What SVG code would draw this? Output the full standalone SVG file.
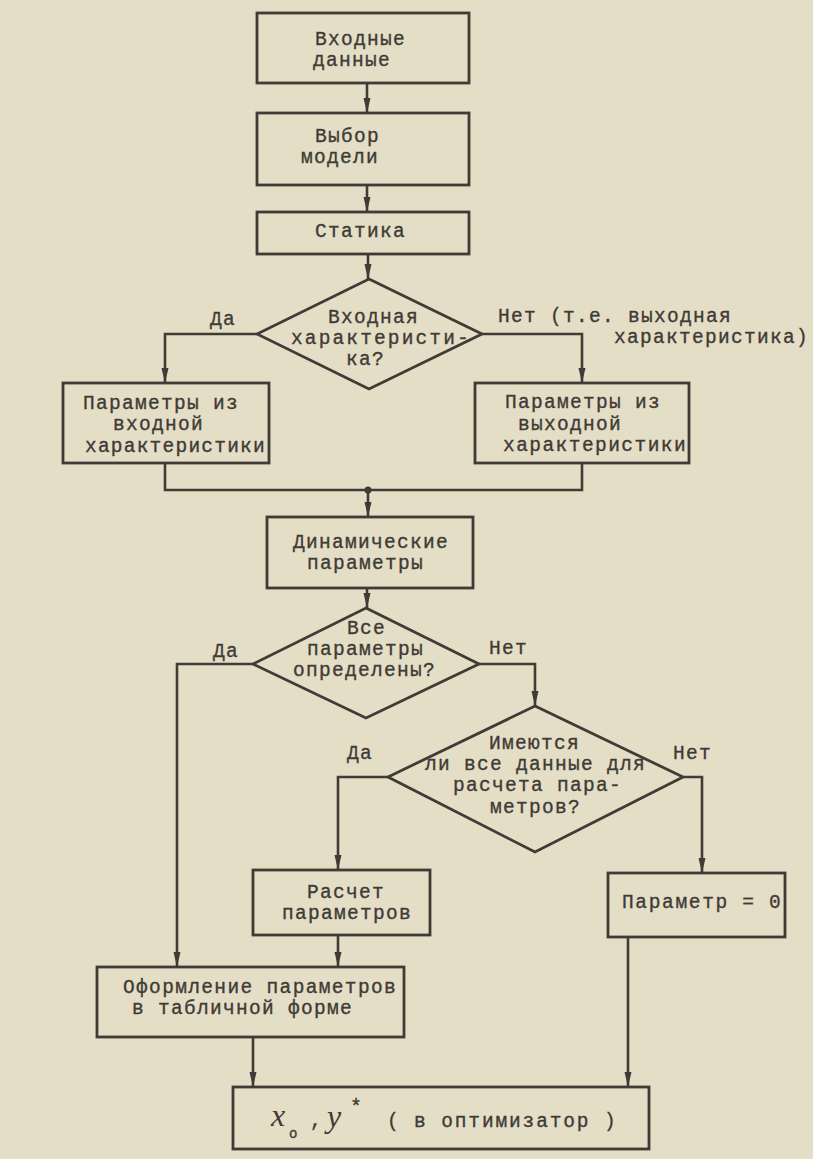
<svg xmlns="http://www.w3.org/2000/svg" width="813" height="1159" viewBox="0 0 813 1159">
<defs>
<style>
.bg{fill:#e5dec7}
.box{fill:none;stroke:#3f3b35;stroke-width:2.8}
.ln{fill:none;stroke:#3f3b35;stroke-width:2.6}
.t{font-family:"Liberation Mono","Courier New",monospace;font-size:19.5px;letter-spacing:1.3px;fill:#3f3b35;stroke:#3f3b35;stroke-width:0.35}
.h{font-family:"Liberation Serif","Times New Roman",serif;font-style:italic;font-size:32px;fill:#3f3b35}
</style>
<marker id="ah" markerUnits="userSpaceOnUse" markerWidth="16" markerHeight="8" refX="15" refY="4" orient="auto">
<path d="M0,0.5 L15,4 L0,7.5 z" fill="#3f3b35"/>
</marker>
</defs>
<rect class="bg" x="0" y="0" width="813" height="1159"/>

<g id="connectors">
<line class="ln" x1="367" y1="83" x2="367" y2="113" marker-end="url(#ah)"/>
<line class="ln" x1="367" y1="185" x2="367" y2="212" marker-end="url(#ah)"/>
<line class="ln" x1="368" y1="254" x2="368" y2="279" marker-end="url(#ah)"/>
<polyline class="ln" points="257,334 165,334 165,383" marker-end="url(#ah)"/>
<polyline class="ln" points="482,334 582,334 582,383" marker-end="url(#ah)"/>
<polyline class="ln" points="165,463 165,490 582,490 582,463"/>
<circle cx="368" cy="490" r="3.5" fill="#3f3b35"/>
<line class="ln" x1="368" y1="490" x2="368" y2="517" marker-end="url(#ah)"/>
<line class="ln" x1="367" y1="588" x2="367" y2="608" marker-end="url(#ah)"/>
<polyline class="ln" points="253,664 177,664 177,967" marker-end="url(#ah)"/>
<polyline class="ln" points="479,664 535,664 535,706" marker-end="url(#ah)"/>
<polyline class="ln" points="388,777 338,777 338,870" marker-end="url(#ah)"/>
<polyline class="ln" points="683,777 702,777 702,873" marker-end="url(#ah)"/>
<line class="ln" x1="338" y1="935" x2="338" y2="967" marker-end="url(#ah)"/>
<line class="ln" x1="253" y1="1037" x2="253" y2="1087" marker-end="url(#ah)"/>
<line class="ln" x1="628" y1="937" x2="628" y2="1087" marker-end="url(#ah)"/>
<text class="t" x="210" y="325">Да</text>
<text class="t" x="498" y="322">Нет (т.е. выходная</text>
<text class="t" x="614" y="343" textLength="195">характеристика)</text>
<text class="t" x="213" y="657">Да</text>
<text class="t" x="489" y="654">Нет</text>
<text class="t" x="347" y="759">Да</text>
<text class="t" x="673" y="759">Нет</text>
</g>

<g id="n1">
<rect class="box" x="257" y="13" width="212" height="70"/>
<text class="t" x="315" y="45">Входные</text>
<text class="t" x="313" y="66">данные</text>
</g>
<g id="n2">
<rect class="box" x="257" y="113" width="212" height="72"/>
<text class="t" x="315" y="142">Выбор</text>
<text class="t" x="301" y="163">модели</text>
</g>
<g id="n3">
<rect class="box" x="257" y="212" width="212" height="42"/>
<text class="t" x="315" y="237">Статика</text>
</g>
<g id="d1">
<polygon class="box" points="369,279 482,334 369,389 257,334"/>
<text class="t" x="328" y="323">Входная</text>
<text class="t" x="291" y="344" textLength="179">характеристи-</text>
<text class="t" x="346" y="365">ка?</text>
</g>
<g id="n4">
<rect class="box" x="63" y="383" width="206" height="80"/>
<text class="t" x="83" y="409">Параметры из</text>
<text class="t" x="113" y="430">входной</text>
<text class="t" x="85" y="452" textLength="181">характеристики</text>
</g>
<g id="n5">
<rect class="box" x="475" y="383" width="214" height="80"/>
<text class="t" x="505" y="408">Параметры из</text>
<text class="t" x="518" y="430">выходной</text>
<text class="t" x="503" y="451" textLength="184">характеристики</text>
</g>
<g id="n6">
<rect class="box" x="267" y="517" width="206" height="71"/>
<text class="t" x="293" y="548">Динамические</text>
<text class="t" x="307" y="569">параметры</text>
</g>
<g id="d2">
<polygon class="box" points="366,608 479,664 366,718 253,664"/>
<text class="t" x="347" y="634">Все</text>
<text class="t" x="307" y="655">параметры</text>
<text class="t" x="293" y="676">определены?</text>
</g>
<g id="d3">
<polygon class="box" points="535,706 683,777 535,852 388,777"/>
<text class="t" x="489" y="749">Имеются</text>
<text class="t" x="425" y="770">ли все данные для</text>
<text class="t" x="453" y="791">расчета пара-</text>
<text class="t" x="490" y="813">метров?</text>
</g>
<g id="n7">
<rect class="box" x="253" y="870" width="177" height="65"/>
<text class="t" x="307" y="898">Расчет</text>
<text class="t" x="282" y="919">параметров</text>
</g>
<g id="n8">
<rect class="box" x="608" y="873" width="177" height="64"/>
<text class="t" x="622" y="908" textLength="160">Параметр = 0</text>
</g>
<g id="n9">
<rect class="box" x="97" y="967" width="307" height="70"/>
<text class="t" x="123" y="993" textLength="274">Оформление параметров</text>
<text class="t" x="132" y="1014">в табличной форме</text>
</g>
<g id="n10">
<rect class="box" x="233" y="1087" width="416" height="62"/>
<text class="h" x="271" y="1126">x</text>
<text class="t" x="289" y="1138" style="font-size:14px;letter-spacing:0">o</text>
<text class="t" x="310" y="1126">,</text>
<text class="h" x="327" y="1127">y</text>
<text class="t" x="350" y="1113" style="font-size:20px;letter-spacing:0">*</text>
<text class="t" x="387" y="1127" textLength="230">( в оптимизатор )</text>
</g>
</svg>
